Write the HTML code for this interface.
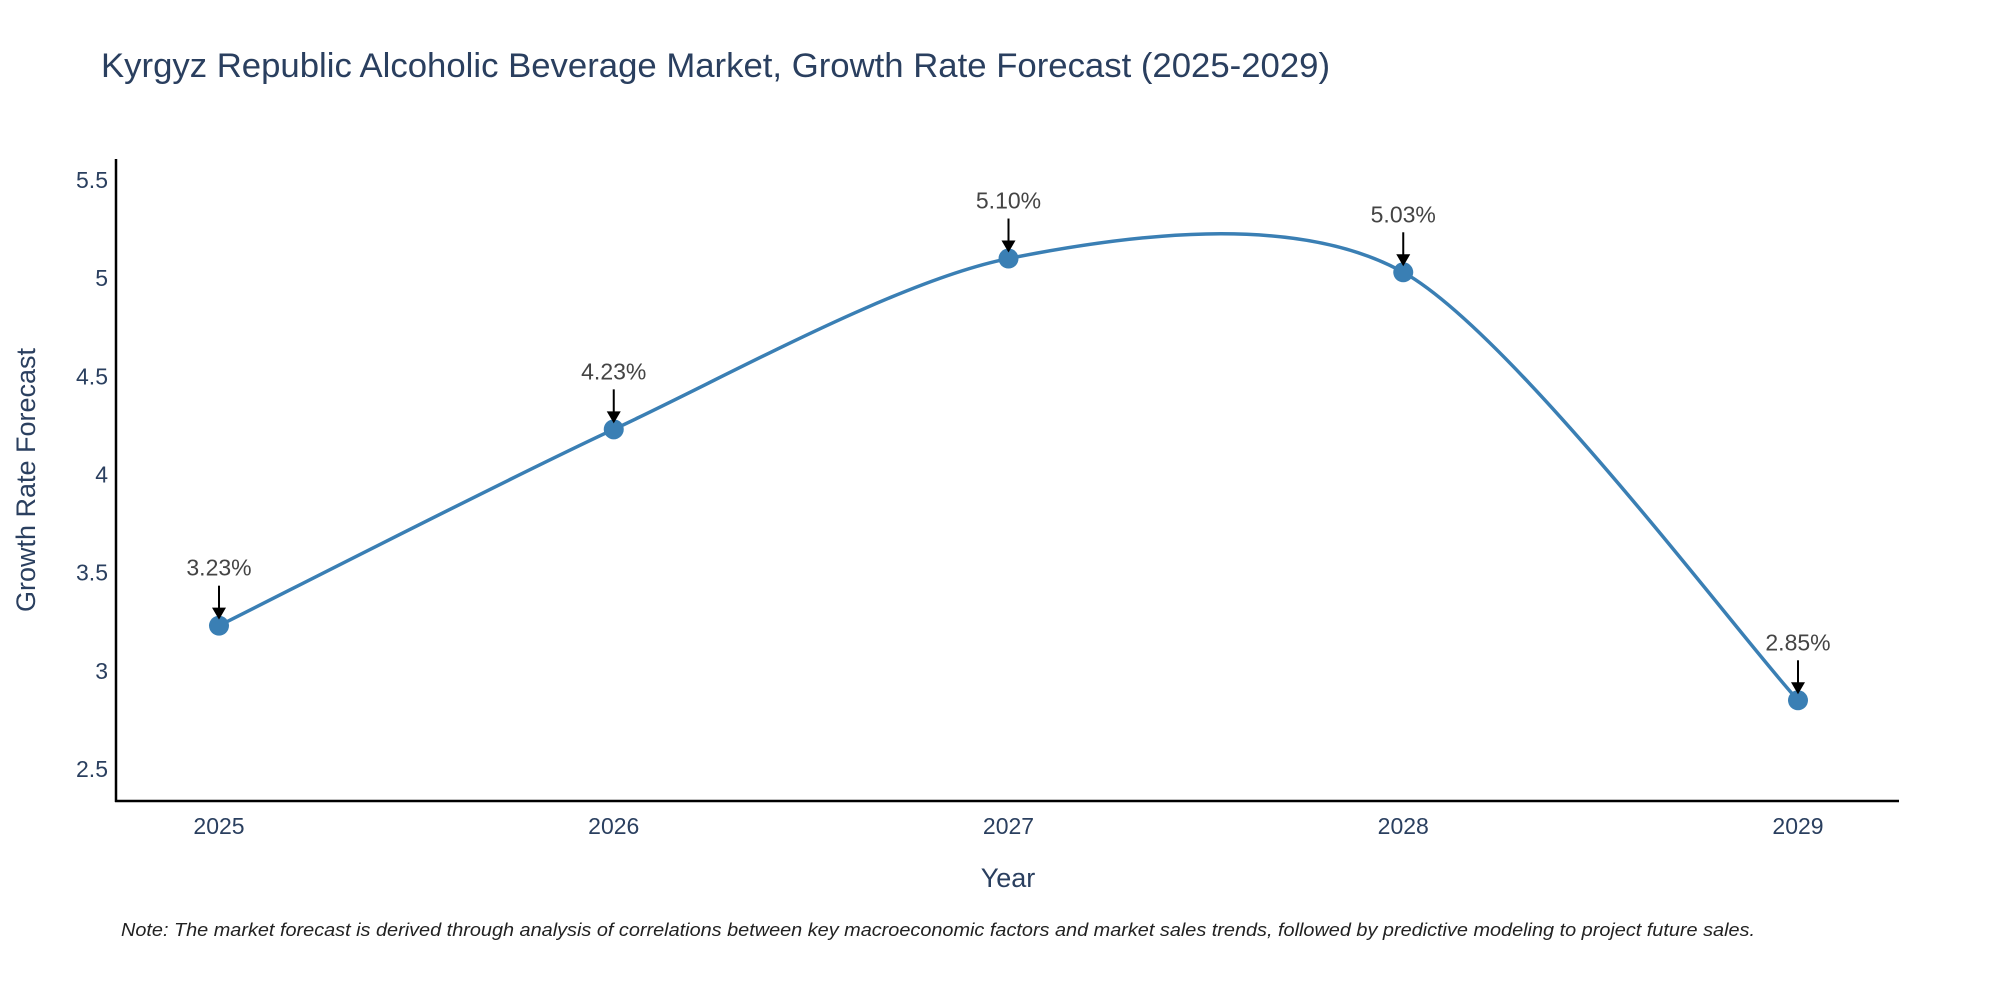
<!DOCTYPE html>
<html><head><meta charset="utf-8"><style>
body{margin:0;background:#fff;}
svg text{font-family:"Liberation Sans",sans-serif;}
</style></head><body>
<svg id="chart" width="2000" height="1000" xmlns="http://www.w3.org/2000/svg">
<rect width="2000" height="1000" fill="#fff"/>
<text x="101" y="77" font-size="34" fill="#2a3f5f" textLength="1229" lengthAdjust="spacingAndGlyphs">Kyrgyz Republic Alcoholic Beverage Market, Growth Rate Forecast (2025-2029)</text>
<g id="yticks"></g><g id="xticks"></g>
<line x1="116" y1="159" x2="116" y2="802" stroke="#000" stroke-width="2.5"/>
<line x1="115" y1="801" x2="1899" y2="801" stroke="#000" stroke-width="2.5"/>
<text transform="translate(35,480) rotate(-90)" text-anchor="middle" font-size="27" fill="#2a3f5f">Growth Rate Forecast</text>
<text x="1008" y="887" text-anchor="middle" font-size="27" fill="#2a3f5f">Year</text>
<g id="series"></g>
<text x="121" y="936" font-size="18" font-style="italic" fill="#222" textLength="1634" lengthAdjust="spacingAndGlyphs">Note: The market forecast is derived through analysis of correlations between key macroeconomic factors and market sales trends, followed by predictive modeling to project future sales.</text>
</svg>
<script>
const categories=["2025","2026","2027","2028","2029"];
const values=[3.23,4.23,5.10,5.03,2.85];
const labels=["3.23%","4.23%","5.10%","5.03%","2.85%"];
const yTicks=[2.5,3,3.5,4,4.5,5,5.5];
const yTickLabels=["2.5","3","3.5","4","4.5","5","5.5"];
const NS="http://www.w3.org/2000/svg";
function xs(i){return 219+i*(1798-219)/(categories.length-1);}
function ys(v){return 769-(v-2.5)*(769-180)/3;}
function mk(t,a,p){const e=document.createElementNS(NS,t);for(const k in a)e.setAttribute(k,a[k]);p.appendChild(e);return e;}
const yt=document.getElementById('yticks');
yTicks.forEach((v,i)=>{const t=mk('text',{x:108,y:ys(v)+8,'text-anchor':'end','font-size':23,fill:'#2a3f5f'},yt);


t.textContent=yTickLabels[i];});
const xt=document.getElementById('xticks');
categories.forEach((c,i)=>{const t=mk('text',{x:xs(i),y:834,'text-anchor':'middle','font-size':23,fill:'#2a3f5f'},xt);


t.textContent=c;});
const s=document.getElementById('series');
const P=values.map((v,i)=>[xs(i),ys(v)]);
let d=`M${P[0][0]},${P[0][1]}`;
for(let i=0;i<P.length-1;i++){const p0=P[i-1]||P[i],p1=P[i],p2=P[i+1],p3=P[i+2]||P[i+1];const k=0.14;
d+=` C${p1[0]+(p2[0]-p0[0])*k},${p1[1]+(p2[1]-p0[1])*k} ${p2[0]-(p3[0]-p1[0])*k},${p2[1]-(p3[1]-p1[1])*k} ${p2[0]},${p2[1]}`;}
const line=mk('path',{d:d,fill:'none',stroke:'#3a7fb4','stroke-width':3.5},s);


P.forEach((p,i)=>{
const c=mk('circle',{cx:p[0],cy:p[1],r:10,fill:'#3a7fb4'},s);


const a=mk('line',{x1:p[0],y1:p[1]-40,x2:p[0],y2:p[1]-16,stroke:'#000','stroke-width':2},s);


const h=mk('polygon',{points:`${p[0]-7},${p[1]-18} ${p[0]+7},${p[1]-18} ${p[0]},${p[1]-6}`,fill:'#000'},s);


const t=mk('text',{x:p[0],y:p[1]-50,'text-anchor':'middle','font-size':23,fill:'#444'},s);


t.textContent=labels[i];});
</script>
</body></html>
